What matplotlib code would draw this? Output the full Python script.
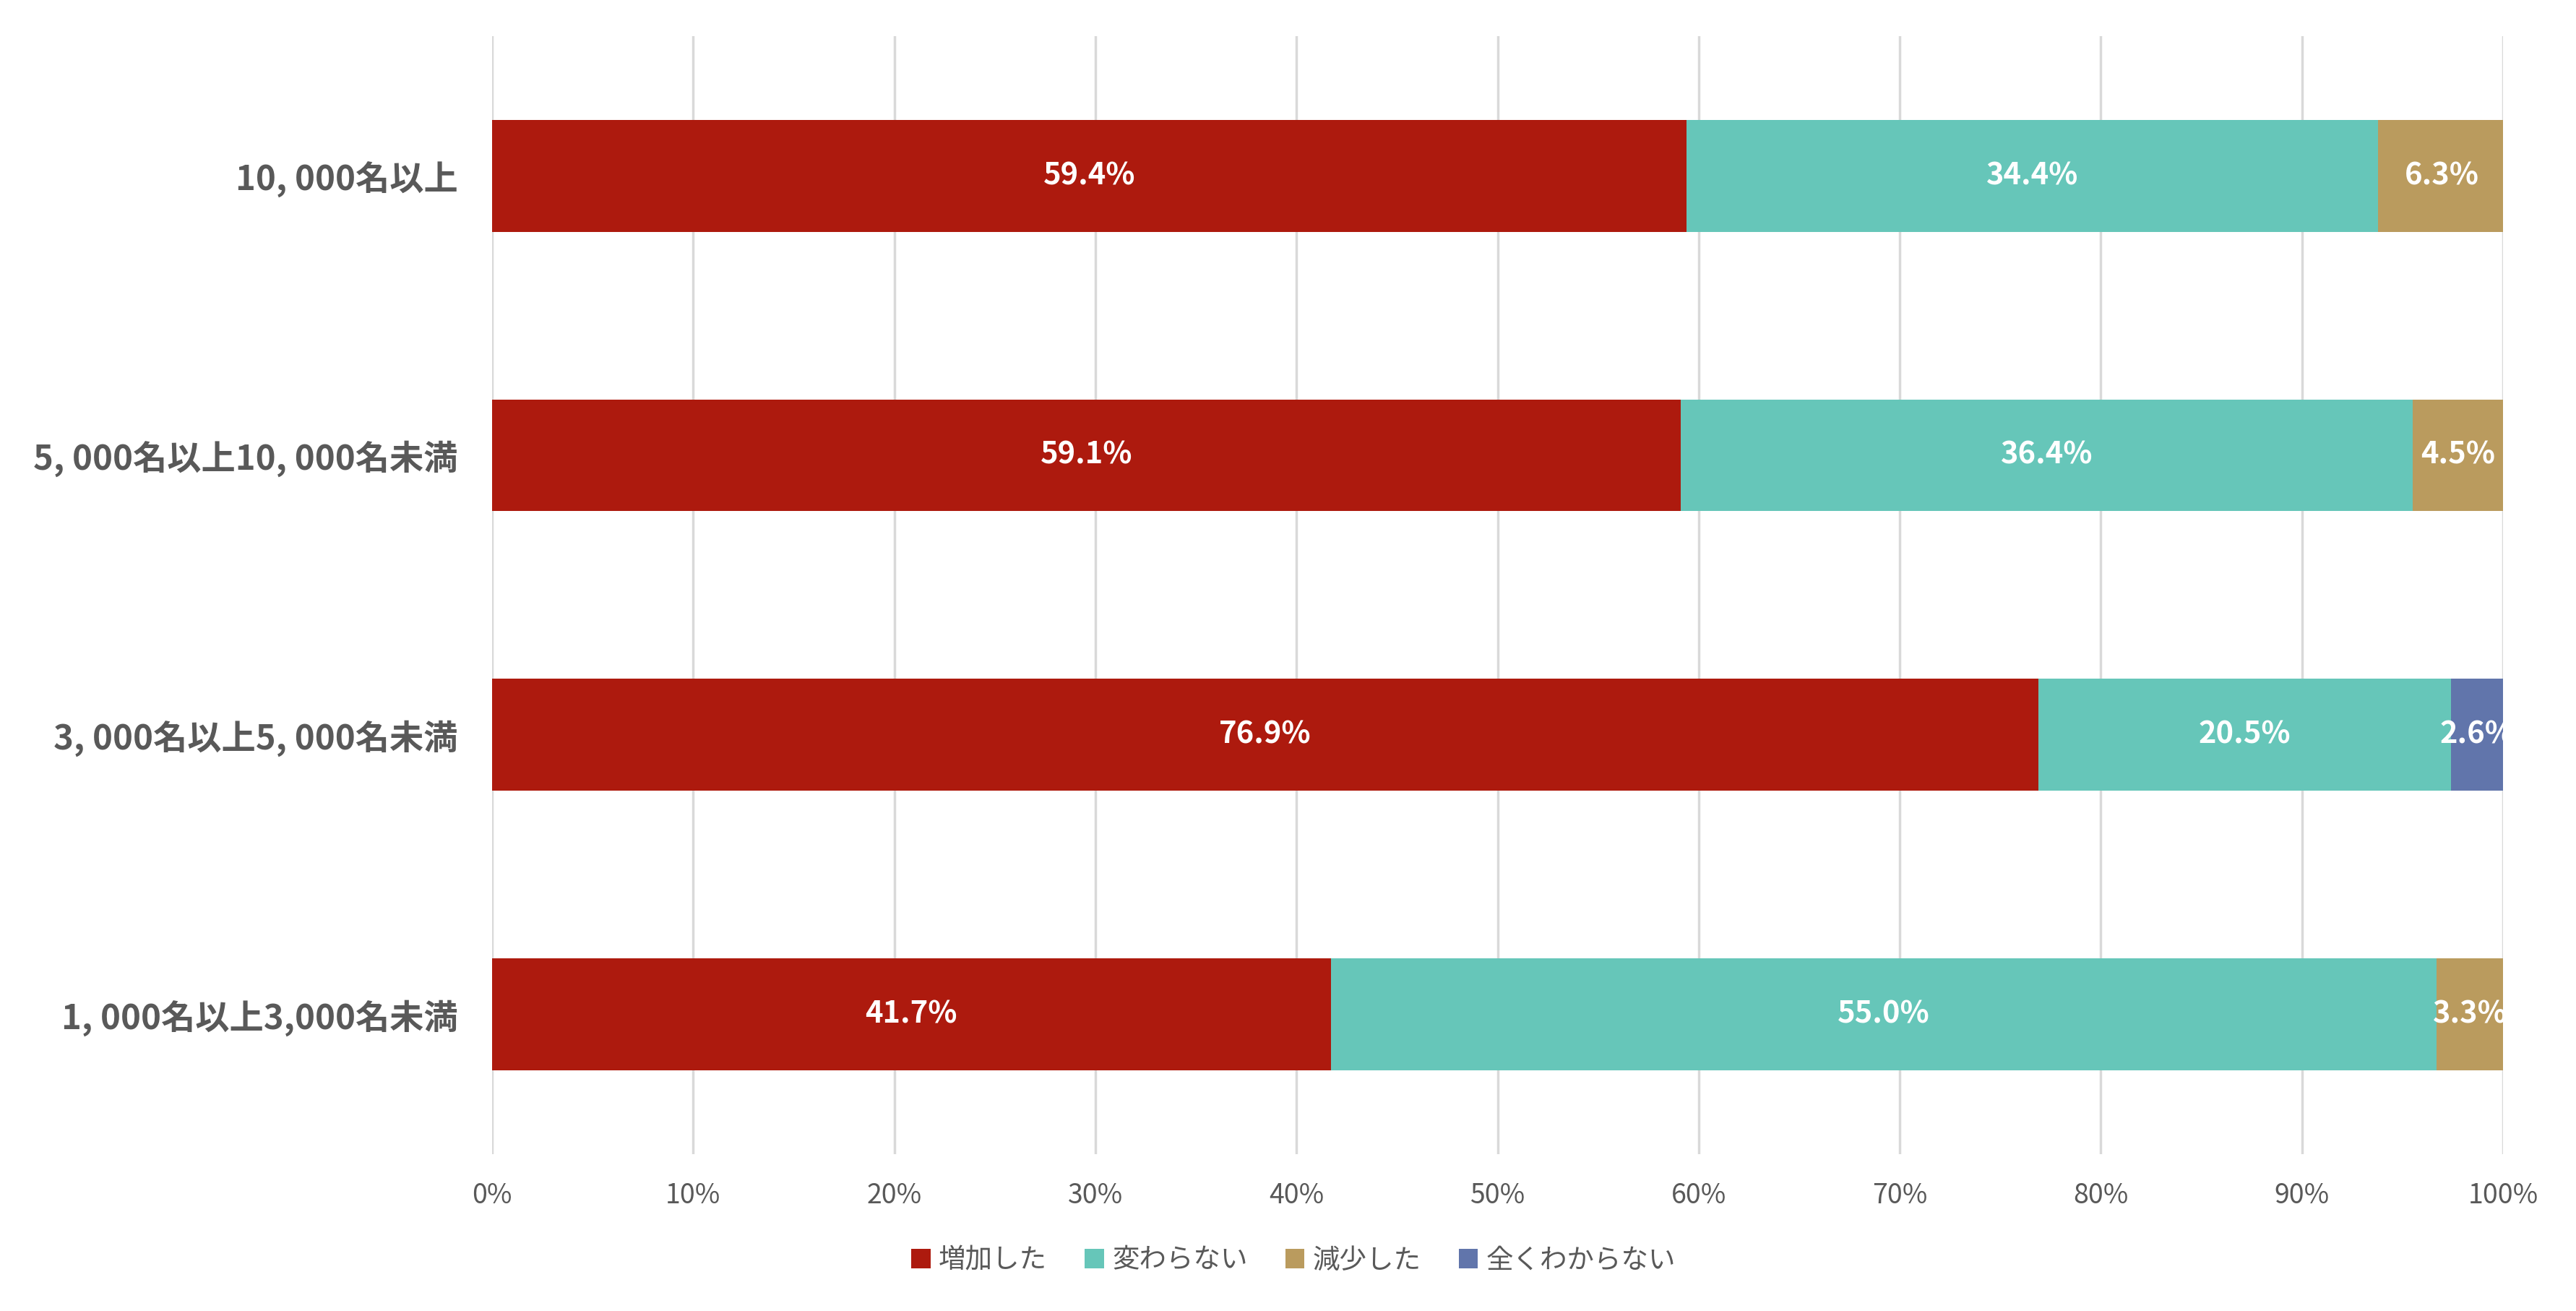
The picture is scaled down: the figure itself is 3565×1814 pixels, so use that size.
import numpy as np
import matplotlib.pyplot as plt
from matplotlib.ticker import FuncFormatter

plt.rcParams['font.family'] = ['Noto Sans CJK JP', 'DejaVu Sans']

# data (top to bottom as shown)
categories = ['10, 000名以上', '5, 000名以上10, 000名未満',
              '3, 000名以上5, 000名未満', '1, 000名以上3,000名未満']
series_names = ['増加した', '変わらない', '減少した', '全くわからない']
increased = [59.4, 59.1, 76.9, 41.7]
unchanged = [34.4, 36.4, 20.5, 55.0]
decreased = [6.3, 4.5, 0.0, 3.3]
unknown = [0.0, 0.0, 2.6, 0.0]
colors = ['#AD1A0E', '#66C6B9', '#BA9B5E', '#6175AB']

text_color = '#595959'

fig = plt.figure(figsize=(35.66, 18.14), dpi=100)
ax = fig.add_axes([0.191, 0.1199, 0.7804, 0.8525])

y = np.arange(len(categories))
left = np.zeros(len(categories))
for name, vals, col in zip(series_names, [increased, unchanged, decreased, unknown], colors):
    vals = np.array(vals)
    ax.barh(y, vals, left=left, height=0.4, color=col, label=name, zorder=3)
    for yi, (l, v) in enumerate(zip(left, vals)):
        if v > 0:
            ax.text(l + v / 2, yi, f'{v:.1f}%', ha='center', va='center',
                    color='white', fontsize=30, fontweight='bold', zorder=4)
    left += vals

ax.set_xlim(0, 100)
ax.set_ylim(len(categories) - 0.5, -0.5)
ax.set_yticks(y)
ax.set_yticklabels(categories, fontsize=34, fontweight='bold', color=text_color)
ax.set_xticks(np.arange(0, 101, 10))
ax.xaxis.set_major_formatter(FuncFormatter(lambda v, p: f'{v:.0f}%'))
ax.tick_params(axis='x', labelsize=27, colors=text_color, length=0, pad=28)
ax.tick_params(axis='y', length=0, pad=34)
ax.grid(axis='x', color='#D9D9D9', linewidth=2.5, zorder=0)
for s in ax.spines.values():
    s.set_visible(False)

leg = fig.legend(loc='center', bbox_to_anchor=(0.502, 0.0385), ncol=4, frameon=False,
                 fontsize=27, handlelength=0.7, handleheight=0.7,
                 handletextpad=0.3, columnspacing=1.4)
for t in leg.get_texts():
    t.set_color(text_color)

fig.savefig('out.png', dpi=100)
